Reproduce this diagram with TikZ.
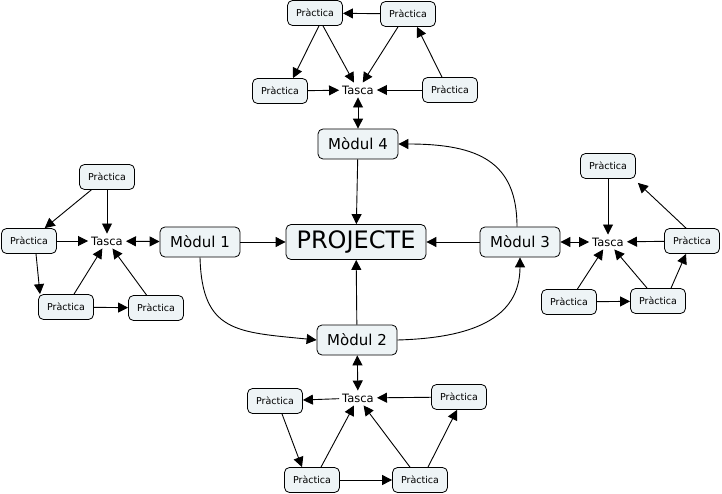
\documentclass[tikz,border=0pt]{standalone}
\usepackage{fontspec}
\setmainfont{DejaVu Sans}
\usetikzlibrary{arrows.meta,calc}
\definecolor{boxfill}{RGB}{238,244,246}
\begin{document}
\begin{tikzpicture}[x=1pt,y=-1pt,
  box/.style={draw=black, fill=boxfill, rounded corners=5pt, line width=0.8pt, inner sep=0pt, align=center},
  prac/.style={box, minimum width=55pt, minimum height=25pt, font=\fontsize{9.5}{10}\selectfont},
  modul/.style={box, minimum width=80pt, minimum height=30pt, font=\fontsize{15}{17}\selectfont},
  proj/.style={box, minimum width=140pt, minimum height=35pt, font=\fontsize{24}{26}\selectfont},
  tasca/.style={inner sep=3pt, font=\fontsize{11.5}{12}\selectfont},
  arr/.style={-{Triangle[length=10pt,width=10pt]}, line width=0.9pt},
  darr/.style={{Triangle[length=10pt,width=10pt]}-{Triangle[length=10pt,width=10pt]}, line width=0.9pt},
]
\fill[white] (0,0) rectangle (722,494);
\useasboundingbox (0,0) rectangle (722,494);

% central nodes
\node[proj] (P) at (356,242) {PROJECTE};
\node[modul] (M1) at (200,242) {Mòdul 1};
\node[modul] (M2) at (357,340) {Mòdul 2};
\node[modul] (M3) at (520,242) {Mòdul 3};
\node[modul] (M4) at (358,144) {Mòdul 4};

% top cluster
\node[tasca] (T4) at (358,90) {Tasca};
\node[prac] (A1) at (315,13) {Pràctica};
\node[prac] (A2) at (408,14) {Pràctica};
\node[prac] (A3) at (280,91) {Pràctica};
\node[prac] (A4) at (450,90) {Pràctica};

% left cluster
\node[tasca] (T1) at (107,241) {Tasca};
\node[prac] (B1) at (107,177) {Pràctica};
\node[prac] (B2) at (29,241) {Pràctica};
\node[prac] (B3) at (66,307) {Pràctica};
\node[prac] (B4) at (156,308) {Pràctica};

% right cluster
\node[tasca] (T3) at (608,242) {Tasca};
\node[prac] (C1) at (608,166) {Pràctica};
\node[prac] (C2) at (692,241) {Pràctica};
\node[prac] (C3) at (569,302) {Pràctica};
\node[prac] (C4) at (658,301) {Pràctica};

% bottom cluster
\node[tasca] (T2) at (358,398) {Tasca};
\node[prac] (D1) at (275,401) {Pràctica};
\node[prac] (D2) at (459,397) {Pràctica};
\node[prac] (D3) at (312,480) {Pràctica};
\node[prac] (D4) at (420,480) {Pràctica};

% central connectors
\draw[arr] (M1) -- (P);
\draw[arr] (M3) -- (P);
\draw[arr] (M4) -- (P);
\draw[arr] (M2) -- (P);
\draw[arr] (M1.south) .. controls ($(M1.south)+(2,75)$) and ($(M2.west)+(-80,-8)$) .. (M2.west);
\draw[arr] (M2.east) .. controls ($(M2.east)+(73,-2)$) and ($(M3.south)+(0,62)$) .. (M3.south);
\draw[arr] ($(M3.north)+(-3,0)$) .. controls ($(M3.north)+(-3,-65)$) and ($(M4.east)+(80,0)$) .. (M4.east);

% top cluster connectors
\draw[darr] (T4) -- (M4);
\draw[arr] (A2) -- (A1);
\draw[arr] ($(A1.south)+(4,0)$) -- ($(A3.north)+(13,0)$);
\draw[arr] ($(A1.south)+(8,0)$) -- (T4);
\draw[arr] ($(A2.south)+(-10,0)$) -- (T4);
\draw[arr] ($(A4.north)+(-8,0)$) -- ($(A2.south)+(9,0)$);
\draw[arr] (A3) -- (T4);
\draw[arr] (A4) -- (T4);

% left cluster connectors
\draw[darr] (T1) -- (M1);
\draw[arr] (B1) -- (B2);
\draw[arr] (B1) -- (T1);
\draw[arr] (B2) -- (T1);
\draw[arr] ($(B2.south)+(7,0)$) -- ($(B3.north)+(-26,0)$);
\draw[arr] (B3) -- (T1);
\draw[arr] (B4) -- (T1);
\draw[arr] (B3) -- (B4);

% right cluster connectors
\draw[darr] (M3) -- (T3);
\draw[arr] (C1) -- (T3);
\draw[arr] ($(C2.north)+(-6,0)$) -- ($(C1.south east)+(2,4)$);
\draw[arr] (C2) -- (T3);
\draw[arr] (C3) -- (T3);
\draw[arr] (C4) -- (T3);
\draw[arr] (C3) -- (C4);
\draw[arr] ($(C4.north)+(13,0)$) -- ($(C2.south)+(-6,0)$);

% bottom cluster connectors
\draw[darr] (M2) -- (T2);
\draw[arr] (T2) -- (D1);
\draw[arr] (D2) -- (T2);
\draw[arr] ($(D1.south)+(7,0)$) -- ($(D3.north)+(-10,0)$);
\draw[arr] ($(D3.north)+(9,0)$) -- (T2);
\draw[arr] ($(D4.north)+(-10,0)$) -- (T2);
\draw[arr] (D3) -- (D4);
\draw[arr] ($(D4.north)+(8,0)$) -- ($(D2.south)+(-2,0)$);
\end{tikzpicture}
\end{document}
